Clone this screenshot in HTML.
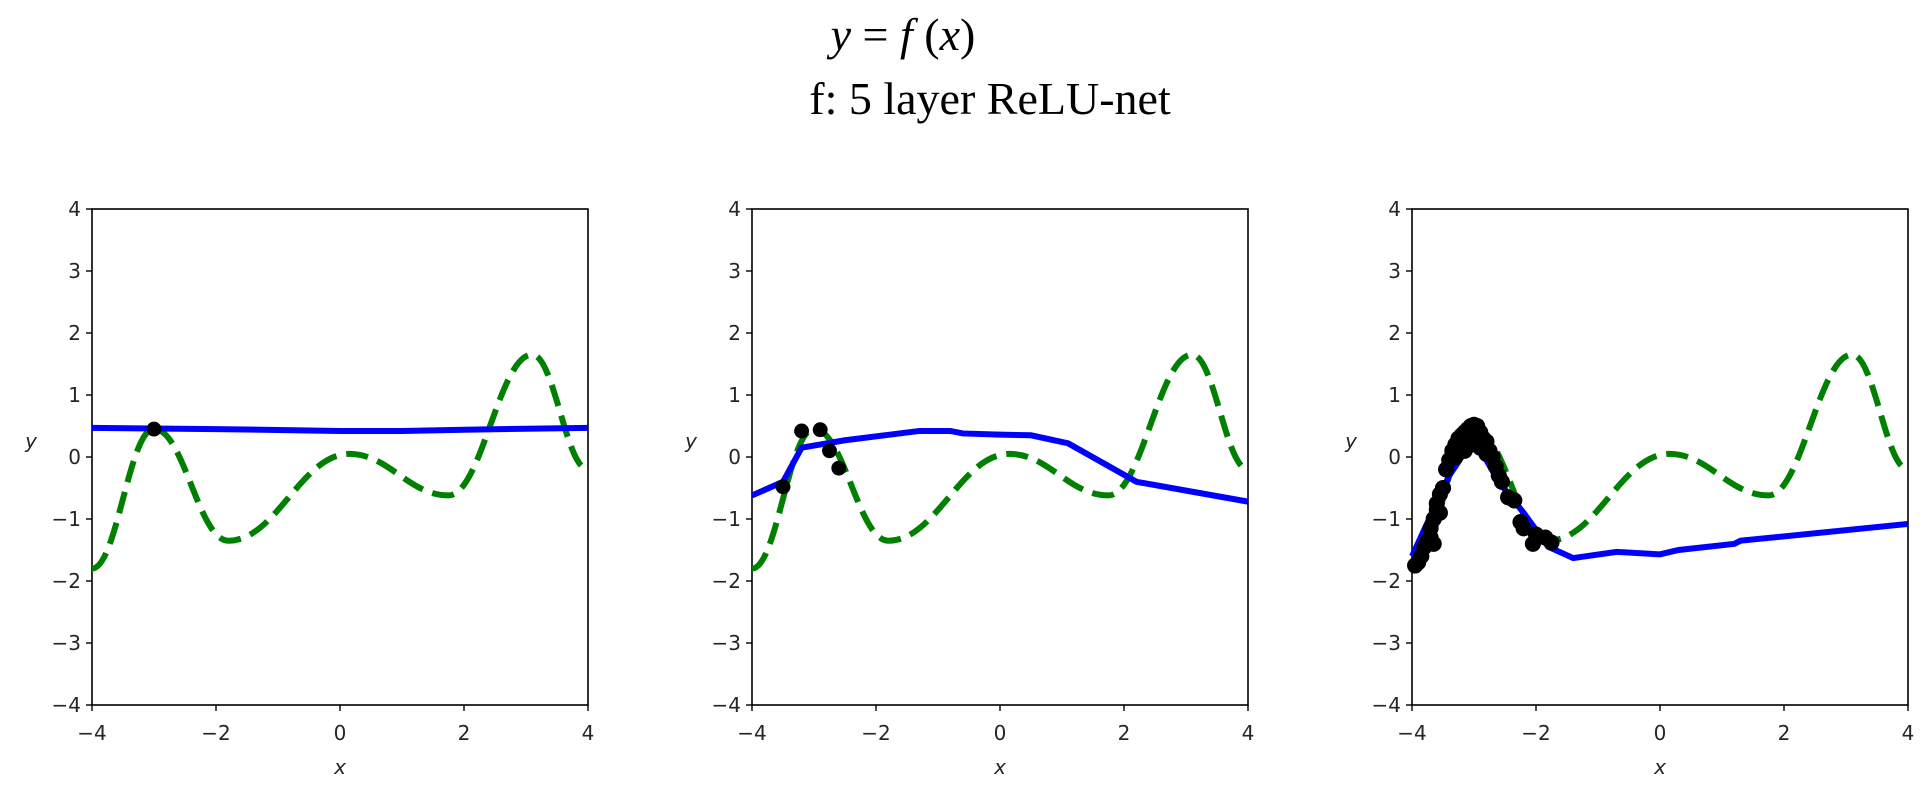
<!DOCTYPE html>
<html><head><meta charset="utf-8"><style>
html,body{margin:0;padding:0;background:#fff;width:1926px;height:794px;overflow:hidden}
text{font-family:"DejaVu Sans","Liberation Sans",sans-serif;fill:#262626}
</style></head><body>
<svg width="1926" height="794" viewBox="0 0 1926 794" xmlns="http://www.w3.org/2000/svg">
<defs>
<g id="axes">
  <rect x="92" y="209" width="496" height="496" fill="none" stroke="#000" stroke-width="1.6"/>
  <g stroke="#000" stroke-width="1.4">
    <line x1="86" y1="209" x2="92" y2="209"/><line x1="86" y1="271" x2="92" y2="271"/>
    <line x1="86" y1="333" x2="92" y2="333"/><line x1="86" y1="395" x2="92" y2="395"/>
    <line x1="86" y1="457" x2="92" y2="457"/><line x1="86" y1="519" x2="92" y2="519"/>
    <line x1="86" y1="581" x2="92" y2="581"/><line x1="86" y1="643" x2="92" y2="643"/>
    <line x1="86" y1="705" x2="92" y2="705"/>
    <line x1="92" y1="705" x2="92" y2="711"/><line x1="216" y1="705" x2="216" y2="711"/>
    <line x1="340" y1="705" x2="340" y2="711"/><line x1="464" y1="705" x2="464" y2="711"/>
    <line x1="588" y1="705" x2="588" y2="711"/>
  </g>
  <g font-size="20" text-anchor="end">
    <text x="81" y="216">4</text><text x="81" y="278">3</text><text x="81" y="340">2</text>
    <text x="81" y="402">1</text><text x="81" y="464">0</text><text x="81" y="526">−1</text>
    <text x="81" y="588">−2</text><text x="81" y="650">−3</text><text x="81" y="712">−4</text>
  </g>
  <g font-size="20" text-anchor="middle">
    <text x="92" y="740">−4</text><text x="216" y="740">−2</text><text x="340" y="740">0</text>
    <text x="464" y="740">2</text><text x="588" y="740">4</text>
    <text x="340" y="774" font-style="italic">x</text>
  </g>
  <text x="31" y="448" font-size="20" font-style="italic" text-anchor="middle">y</text>
  <path d="M92,568.6 C117,568.6 129,429 154,429 C184,429 198.4,540.7 228.4,540.7 C276.4,540.7 301.3,453.9 349.3,453.9 C389.3,453.9 408.5,495.4 448.5,495.4 C481.5,495.4 499.2,354.7 532.2,354.7 C554.2,354.7 566,469.4 588,469.4" fill="none" stroke="#008000" stroke-width="6" stroke-dasharray="22,10"/>
</g>
</defs>

<text x="903" y="50" font-size="46" font-style="italic" text-anchor="middle" style="font-family:'Liberation Serif',serif;fill:#000"><tspan>y</tspan><tspan font-style="normal"> = </tspan><tspan>f</tspan><tspan font-style="normal"> (</tspan><tspan>x</tspan><tspan font-style="normal">)</tspan></text>
<text x="990" y="114" font-size="46" text-anchor="middle" style="font-family:'Liberation Serif',serif;fill:#000">f:  5 layer ReLU-net</text>

<use href="#axes"/>
<use href="#axes" transform="translate(660,0)"/>
<use href="#axes" transform="translate(1320,0)"/>

<!-- panel 1 -->
<g transform="translate(92,457) scale(62,-62)">
  <polyline points="0,0.47 2,0.45 4,0.42 5,0.42 6,0.44 8,0.47" fill="none" stroke="#0000ff" stroke-width="6" vector-effect="non-scaling-stroke"/>
  <circle cx="1" cy="0.45" r="0.12" fill="#000"/>
</g>
<!-- panel 2 -->
<g transform="translate(752,457) scale(62,-62)">
  <polyline points="0,-0.62 0.5,-0.4 0.8,0.15 1.5,0.27 2.7,0.42 3.2,0.42 3.4,0.38 4,0.36 4.5,0.35 5.1,0.22 6.2,-0.4 8,-0.72" fill="none" stroke="#0000ff" stroke-width="6" vector-effect="non-scaling-stroke"/>
  <g fill="#000">
    <circle cx="0.5" cy="-0.48" r="0.12"/><circle cx="0.8" cy="0.42" r="0.12"/>
    <circle cx="1.1" cy="0.44" r="0.12"/><circle cx="1.25" cy="0.1" r="0.12"/>
    <circle cx="1.4" cy="-0.18" r="0.12"/>
  </g>
</g>
<!-- panel 3 -->
<g transform="translate(1412,457) scale(62,-62)">
  <polyline points="0,-1.6 0.6,-0.3 1,0.3 1.4,-0.4 1.8,-0.9 2.2,-1.45 2.6,-1.63 3.3,-1.53 4,-1.57 4.3,-1.5 5.2,-1.4 5.3,-1.35 8,-1.08" fill="none" stroke="#0000ff" stroke-width="6" vector-effect="non-scaling-stroke"/>
  <g fill="#000">
    <circle cx="0.05" cy="-1.75" r="0.13"/><circle cx="0.1" cy="-1.7" r="0.13"/>
    <circle cx="0.15" cy="-1.6" r="0.13"/><circle cx="0.2" cy="-1.45" r="0.13"/>
    <circle cx="0.25" cy="-1.35" r="0.13"/><circle cx="0.3" cy="-1.15" r="0.13"/>
    <circle cx="0.35" cy="-1.0" r="0.13"/><circle cx="0.4" cy="-0.75" r="0.13"/>
    <circle cx="0.45" cy="-0.6" r="0.13"/><circle cx="0.5" cy="-0.5" r="0.13"/>
    <circle cx="0.55" cy="-0.2" r="0.13"/><circle cx="0.6" cy="-0.05" r="0.13"/>
    <circle cx="0.65" cy="0.1" r="0.13"/><circle cx="0.7" cy="0.2" r="0.13"/>
    <circle cx="0.75" cy="0.3" r="0.13"/><circle cx="0.8" cy="0.35" r="0.13"/>
    <circle cx="0.85" cy="0.4" r="0.13"/><circle cx="0.9" cy="0.45" r="0.13"/>
    <circle cx="0.95" cy="0.5" r="0.13"/><circle cx="1.0" cy="0.52" r="0.13"/>
    <circle cx="1.05" cy="0.5" r="0.13"/><circle cx="1.1" cy="0.4" r="0.13"/>
    <circle cx="1.15" cy="0.3" r="0.13"/><circle cx="1.2" cy="0.25" r="0.13"/>
    <circle cx="1.25" cy="0.1" r="0.13"/><circle cx="1.3" cy="0.0" r="0.13"/>
    <circle cx="1.35" cy="-0.15" r="0.13"/><circle cx="1.4" cy="-0.3" r="0.13"/>
    <circle cx="1.45" cy="-0.4" r="0.13"/><circle cx="1.55" cy="-0.65" r="0.13"/>
    <circle cx="1.65" cy="-0.7" r="0.13"/><circle cx="1.75" cy="-1.05" r="0.13"/>
    <circle cx="1.8" cy="-1.15" r="0.13"/><circle cx="1.95" cy="-1.4" r="0.13"/>
    <circle cx="2.0" cy="-1.25" r="0.13"/><circle cx="2.15" cy="-1.3" r="0.13"/>
    <circle cx="2.25" cy="-1.38" r="0.13"/><circle cx="0.8" cy="0.15" r="0.13"/>
    <circle cx="1.0" cy="0.3" r="0.13"/><circle cx="0.4" cy="-0.85" r="0.13"/>
    <circle cx="0.3" cy="-1.3" r="0.13"/><circle cx="0.95" cy="0.2" r="0.13"/>
    <circle cx="0.7" cy="0.0" r="0.13"/><circle cx="0.85" cy="0.1" r="0.13"/>
    <circle cx="1.2" cy="0.05" r="0.13"/><circle cx="1.1" cy="0.15" r="0.13"/>
    <circle cx="0.35" cy="-1.4" r="0.13"/><circle cx="0.45" cy="-0.9" r="0.13"/>
  </g>
</g>
</svg>
</body></html>
